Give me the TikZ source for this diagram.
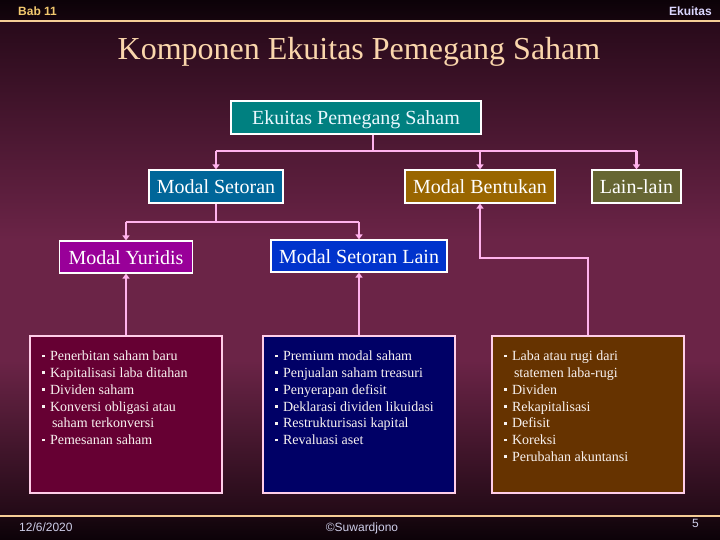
\documentclass[tikz,border=0pt]{standalone}
\usepackage{xcolor}
\usepackage{fontspec}
\setmainfont{Liberation Serif}
\setsansfont{Liberation Sans}
\usepackage{tikz}
\usetikzlibrary{arrows.meta, positioning}
\definecolor{bgtop}{RGB}{12,2,8}
\definecolor{bghead}{RGB}{22,5,14}
\definecolor{bgdark}{RGB}{40,10,26}
\definecolor{bglow}{RGB}{34,10,22}
\definecolor{bgmid}{RGB}{107,36,71}
\definecolor{bgfoot}{RGB}{26,8,17}
\definecolor{myrule}{RGB}{245,205,150}
\definecolor{mypeach}{RGB}{250,214,172}
\definecolor{mygold}{RGB}{242,200,110}
\definecolor{mylav}{RGB}{220,215,255}
\definecolor{myfoot}{RGB}{205,205,232}
\definecolor{mypink}{RGB}{255,178,236}
\definecolor{myedge}{RGB}{255,205,232}
\definecolor{mytext}{RGB}{248,242,240}
\definecolor{fillteal}{RGB}{0,128,128}
\definecolor{fillsteel}{RGB}{0,102,153}
\definecolor{fillgold}{RGB}{153,102,0}
\definecolor{fillolive}{RGB}{102,102,51}
\definecolor{fillviolet}{RGB}{153,0,153}
\definecolor{fillblue}{RGB}{0,51,204}
\definecolor{fillwine}{RGB}{102,0,51}
\definecolor{fillnavy}{RGB}{0,0,102}
\definecolor{fillbrown}{RGB}{102,51,0}
\tikzset{
  block/.style={rectangle, draw=white, line width=1.1pt, text=white,
    font=\fontsize{20}{24}\selectfont, inner sep=0pt,
    text height=14pt, text depth=0pt, minimum height=33pt},
  listbox/.style={rectangle, draw=myedge, line width=1.1pt, text=mytext,
    font=\fontsize{14}{16.8}\selectfont, inner xsep=12pt, inner ysep=13pt,
    align=left},
  arrow/.style={-{Triangle[length=5pt,width=7pt]}, line width=2.2pt, color=mypink},
  line/.style={line width=2.2pt, color=mypink},
  hdr/.style={font=\sffamily\bfseries\fontsize{12}{14}\selectfont, inner sep=0pt},
  ftr/.style={font=\sffamily\fontsize{12}{14}\selectfont, inner sep=0pt, text=myfoot}
}
\newcommand{\sqb}{\raisebox{3.4pt}{\rule{2.8pt}{2.8pt}}}
\newcommand{\itm}[1]{\makebox[8pt][l]{\sqb}#1}
\newcommand{\cnt}[1]{\hspace*{10pt}#1}

\begin{document}
\begin{tikzpicture}[x=1pt, y=-1pt]
  \useasboundingbox (0,0) rectangle (720,540);

  % background
  \shade[top color=bgtop, bottom color=bghead] (0,0) rectangle (720,21);
  \shade[top color=bgdark, bottom color=bgmid] (0,21) rectangle (720,240);
  \fill[bgmid] (0,239.5) rectangle (720,360.5);
  \shade[top color=bgmid, bottom color=bglow] (0,360) rectangle (720,516);
  \shade[top color=bgfoot, bottom color=bgtop] (0,516) rectangle (720,540);
  \draw[myrule, line width=2pt] (0,20.7) -- (720,20.7);
  \draw[myrule, line width=2pt] (0,516) -- (720,516);

  \node[hdr, text=mygold, anchor=base west] (bab) at (18,16) {Bab 11};
  \node[hdr, text=mylav, anchor=base east] (sec) at (712,16) {Ekuitas};
  \node[font=\fontsize{32}{38}\selectfont, text=mypeach, anchor=base] (title) at (359,60)
    {Komponen Ekuitas Pemegang Saham};

  % boxes
  \node[block, fill=fillteal, text=cyan!8, minimum width=250pt] (eps) at (356,117.5) {Ekuitas Pemegang Saham};
  \node[block, fill=fillsteel, minimum width=134pt] (setoran) at (216,186.5) {Modal Setoran};
  \node[block, fill=fillgold, minimum width=150pt] (bentukan) at (480,186.5) {Modal Bentukan};
  \node[block, fill=fillolive, minimum width=89pt] (lain) at (636.5,186.5) {Lain-lain};
  \node[block, fill=fillviolet, minimum width=133pt, minimum height=32pt] (yuridis) at (126,257) {Modal Yuridis};
  \node[block, fill=fillblue, minimum width=176pt, minimum height=32pt] (setlain) at (359,256) {Modal Setoran Lain};

  \node[listbox, fill=fillwine] (lyur) at (126,414.5) {\parbox[c][131pt][t]{168pt}{\strut
    \itm{Penerbitan saham baru}\\
    \itm{Kapitalisasi laba ditahan}\\
    \itm{Dividen saham}\\
    \itm{Konversi obligasi atau}\\
    \cnt{saham terkonversi}\\
    \itm{Pemesanan saham}}};
  \node[listbox, fill=fillnavy] (lset) at (359,414.5) {\parbox[c][131pt][t]{168pt}{\strut
    \itm{Premium modal saham}\\
    \itm{Penjualan saham treasuri}\\
    \itm{Penyerapan defisit}\\
    \itm{Deklarasi dividen likuidasi}\\
    \itm{Restrukturisasi kapital}\\
    \itm{Revaluasi aset}}};
  \node[listbox, fill=fillbrown] (lben) at (588,414.5) {\parbox[c][131pt][t]{168pt}{\strut
    \itm{Laba atau rugi dari}\\
    \cnt{statemen laba-rugi}\\
    \itm{Dividen}\\
    \itm{Rekapitalisasi}\\
    \itm{Defisit}\\
    \itm{Koreksi}\\
    \itm{Perubahan akuntansi}}};

  % connectors
  \coordinate (bus1) at (373,151);
  \coordinate (bus2) at (216,222);
  \coordinate (bend) at (588,258);
  \draw[line] ([xshift=17pt]eps.south) -- (bus1);
  \draw[line] (setoran.north |- bus1) -- (lain.north |- bus1);
  \draw[arrow] (setoran.north |- bus1) -- (setoran.north);
  \draw[arrow] (bentukan.north |- bus1) -- (bentukan.north);
  \draw[arrow] (lain.north |- bus1) -- (lain.north);

  \draw[line] (setoran.south) -- (bus2);
  \draw[line] (yuridis.north |- bus2) -- (setlain.north |- bus2);
  \draw[arrow] (yuridis.north |- bus2) -- (yuridis.north);
  \draw[arrow] (setlain.north |- bus2) -- (setlain.north);

  \draw[arrow] (lyur.north) -- (yuridis.south);
  \draw[arrow] (lset.north) -- (setlain.south);
  \draw[arrow] (lben.north) -- (bend) -| (bentukan.south);

  % footer
  \node[ftr, anchor=base west] (date) at (19,531) {12/6/2020};
  \node[ftr, anchor=base] (author) at (362,531) {©Suwardjono};
  \node[ftr, anchor=base east] (page) at (699,527) {5};
\end{tikzpicture}
\end{document}
